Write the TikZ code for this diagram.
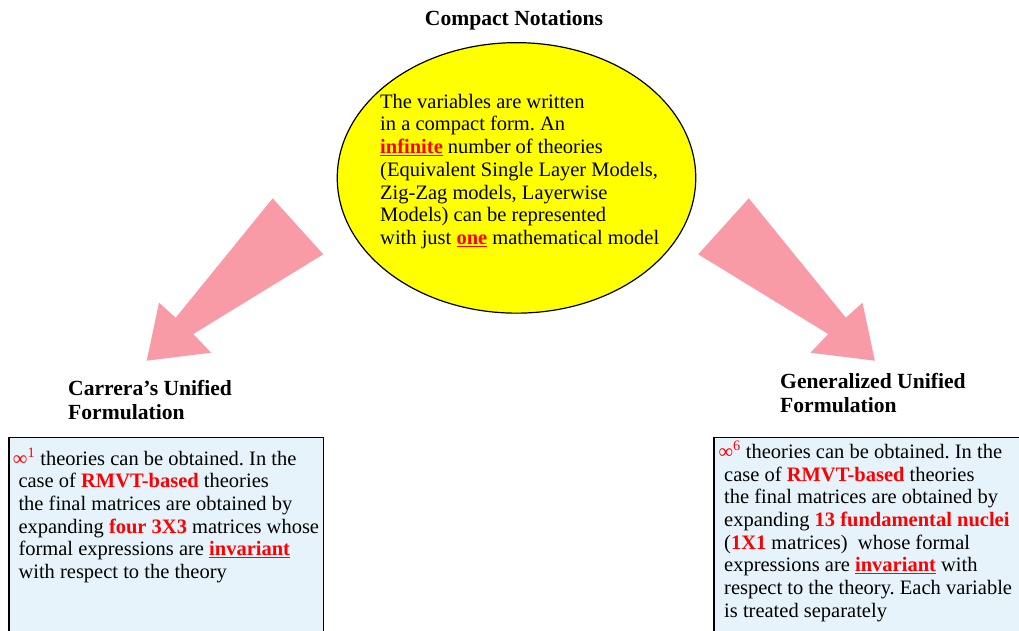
\documentclass[tikz,border=0pt]{standalone}
\usepackage{fontspec}
\setmainfont{Liberation Serif}
\usetikzlibrary{shapes.geometric}
\definecolor{arrowpink}{RGB}{249,155,166}
\definecolor{boxblue}{RGB}{230,243,250}
\definecolor{hred}{RGB}{255,0,0}
\definecolor{ellyellow}{RGB}{255,255,0}
\newcommand{\hl}[1]{\textcolor{hred}{\textbf{#1}}}
\newcommand{\hlu}[1]{\textcolor{hred}{\underline{\textbf{#1}}}}
\newcommand{\inff}[1]{\textcolor{hred}{∞\textsuperscript{#1}}}
\frenchspacing
\begin{document}
\begin{tikzpicture}[x=1pt,y=-1pt,
  bodytext/.style={anchor=base west, inner sep=0pt, font=\fontsize{20.5}{22.7}\selectfont},
  headtext/.style={anchor=base west, inner sep=0pt, font=\fontsize{21.6}{24.2}\selectfont\bfseries},
  infobox/.style={draw=black, line width=1.3pt, fill=boxblue, anchor=north west, inner sep=0pt},
  blockarrow/.style={fill=arrowpink, draw=none}]
\useasboundingbox (0,0) rectangle (1019,631);
\clip (0,0) rectangle (1019,631);

% title
\node[anchor=base, inner sep=0pt, font=\fontsize{21.6}{24}\selectfont\bfseries] (title) at (514,26) {Compact Notations};

% central ellipse
\node[ellipse, draw=black, line width=1.2pt, fill=ellyellow, minimum width=358.5pt, minimum height=270.5pt, inner sep=0pt] (ell) at (516.5,177.9) {};
\node[bodytext] (elltext) at (380,108.3) {\parbox[t]{330pt}{The variables are written\\
in a compact form. An\\
\hlu{infinite} number of theories\\
(Equivalent Single Layer Models,\\
Zig-Zag models, Layerwise\\
Models) can be represented\\
with just \hlu{one} mathematical model}};

% block arrows
\fill[blockarrow] (272.7,198.3) -- (323.3,254.3) -- (193.3,334) -- (211,352.7) -- (146.7,360.7) -- (159,302.7) -- (175.7,317.7) -- cycle;
\fill[blockarrow] (748.8,198.3) -- (698.2,254.3) -- (828.2,334) -- (810.5,352.7) -- (874.8,360.7) -- (862.5,302.7) -- (845.8,317.7) -- cycle;

% headings
\node[headtext] (lhead) at (68,395) {\parbox[t]{250pt}{Carrera’s Unified\\ Formulation}};
\node[headtext] (rhead) at (780,388.3) {\parbox[t]{250pt}{Generalized Unified\\ Formulation}};

% left box
\node[infobox, minimum width=314.4pt, minimum height=230pt] (lbox) at (8.3,436.7) {};
\node[bodytext] (ltext) at (18.3,465) {\parbox[t]{330pt}{\hspace*{-5.6pt}\inff{1} theories can be obtained. In the\\
case of \hl{RMVT-based} theories\\
the final matrices are obtained by\\
expanding \hl{four 3X3} matrices whose\\
formal expressions are \hlu{invariant}\\
with respect to the theory}};

% right box
\node[infobox, minimum width=330pt, minimum height=230pt] (rbox) at (713.3,436.7) {};
\node[bodytext] (rtext) at (724,458.3) {\parbox[t]{330pt}{\hspace*{-5.7pt}\inff{6} theories can be obtained. In the\\
case of \hl{RMVT-based} theories\\
the final matrices are obtained by\\
expanding \hl{13 fundamental nuclei}\\
(\hl{1X1} matrices)\ \ whose formal\\
expressions are \hlu{invariant} with\\
respect to the theory. Each variable\\
is treated separately}};
\end{tikzpicture}
\end{document}
